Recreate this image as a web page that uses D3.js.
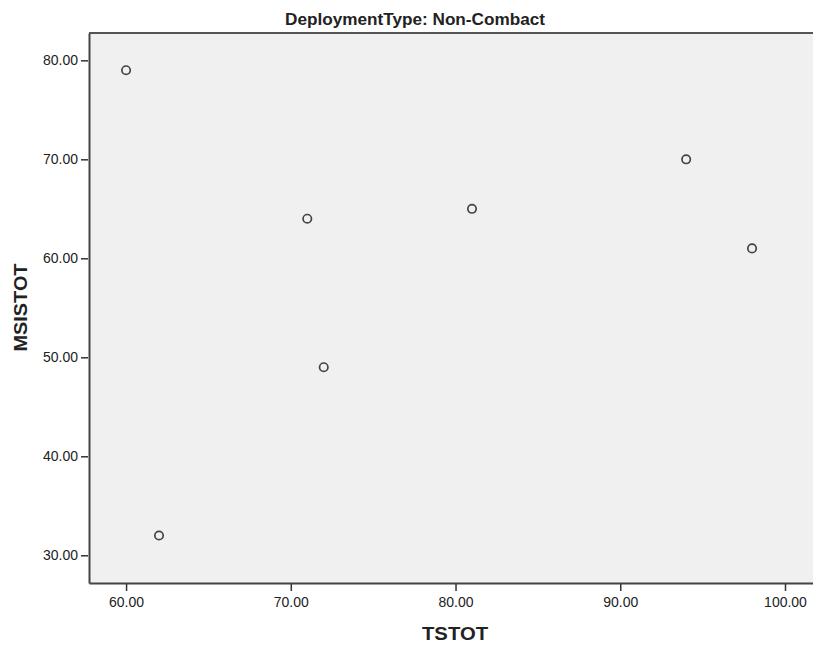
<!DOCTYPE html>
<html>
<head>
<meta charset="utf-8">
<script src="https://cdn.jsdelivr.net/npm/d3@7"></script>
<style>
  body { margin: 0; background: #fff; }
  text { font-family: "Liberation Sans", Arial, sans-serif; fill: #222; }
</style>
</head>
<body>
<div id="chart"></div>
<script>
var tstot = [60, 62, 71, 72, 81, 94, 98];
var msistot = [79, 32, 64, 49, 65, 70, 61];
var xTicks = [60, 70, 80, 90, 100];
var yTicks = [30, 40, 50, 60, 70, 80];

var width = 813,
    height = 648;

var margin = {top: 33, right: 0, bottom: 65, left: 89};
var innerW = width - margin.left - margin.right,
    innerH = height - margin.top - margin.bottom;

var x = d3.scaleLinear().domain([57.75, 101.7]).range([0, innerW]);
var y = d3.scaleLinear().domain([27.2, 82.76]).range([innerH, 0]);

var svg = d3.select("#chart").append("svg")
    .attr("width", width)
    .attr("height", height);

var g = svg.append("g").attr("transform", "translate(" + margin.left + "," + margin.top + ")");

g.append("rect")
    .attr("width", innerW)
    .attr("height", innerH)
    .attr("fill", "#f0f0f0");

// top border of the frame
g.append("line")
    .attr("x1", 0).attr("x2", innerW)
    .attr("y1", 0).attr("y2", 0)
    .attr("stroke", "#555")
    .attr("stroke-width", 2);

// axes
var xAxis = g.append("g")
    .attr("transform", "translate(0," + innerH + ")")
    .call(d3.axisBottom(x).tickValues(xTicks).tickSizeInner(8).tickSizeOuter(0).tickPadding(6).tickFormat(d3.format(".2f")));
var yAxis = g.append("g")
    .call(d3.axisLeft(y).tickValues(yTicks).tickSizeInner(8).tickSizeOuter(0).tickPadding(3).tickFormat(d3.format(".2f")));

[xAxis, yAxis].forEach(function(a) {
    a.select(".domain").attr("stroke", "#444").attr("stroke-width", 2);
    a.selectAll(".tick line").attr("stroke", "#333").attr("stroke-width", 1.5);
    a.selectAll(".tick text")
        .attr("font-family", "\"Liberation Sans\", Arial, sans-serif")
        .attr("font-size", 14)
        .attr("fill", "#222");
});
xAxis.selectAll(".tick line").attr("y1", 1);
yAxis.selectAll(".tick line").attr("x1", -1);

// points
g.selectAll(".dot").data(tstot)
  .enter().append("circle")
    .attr("class", "dot")
    .attr("cx", function(d) { return x(d); })
    .attr("cy", function(d, i) { return y(msistot[i]); })
    .attr("r", 4.2)
    .attr("fill", "none")
    .attr("stroke", "#444")
    .attr("stroke-width", 1.7);

// title and axis labels
svg.append("text")
    .attr("x", 415)
    .attr("y", 24.5)
    .attr("text-anchor", "middle")
    .attr("font-weight", "bold")
    .attr("font-size", 16)
    .attr("textLength", 260)
    .attr("lengthAdjust", "spacingAndGlyphs")
    .text("DeploymentType: Non-Combact");

svg.append("text")
    .attr("x", 455)
    .attr("y", 640)
    .attr("text-anchor", "middle")
    .attr("font-weight", "bold")
    .attr("font-size", 18.5)
    .attr("textLength", 66)
    .attr("lengthAdjust", "spacingAndGlyphs")
    .text("TSTOT");

svg.append("text")
    .attr("transform", "translate(27,307.5) rotate(-90)")
    .attr("text-anchor", "middle")
    .attr("font-weight", "bold")
    .attr("font-size", 18.5)
    .attr("textLength", 88)
    .attr("lengthAdjust", "spacingAndGlyphs")
    .text("MSISTOT");
</script>
</body>
</html>
